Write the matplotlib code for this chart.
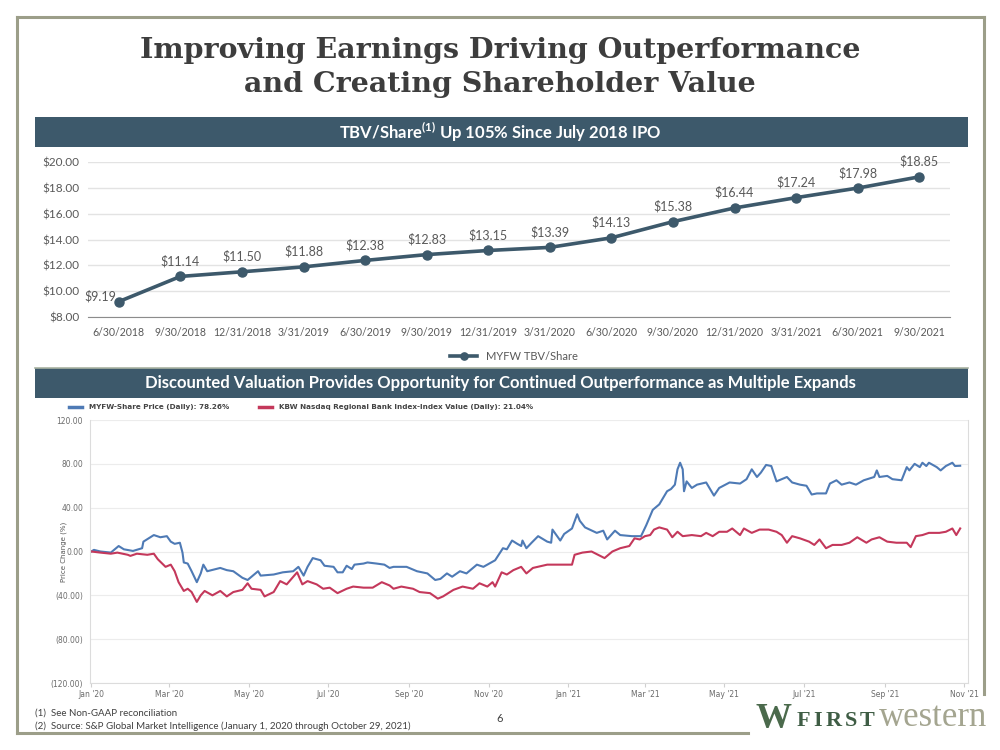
import numpy as np
import pandas as pd
import matplotlib
matplotlib.use('Agg')
import matplotlib.pyplot as plt
from matplotlib.patches import Rectangle
from matplotlib.lines import Line2D

plt.rcParams['mathtext.fontset'] = 'custom'
plt.rcParams['mathtext.rm'] = 'Lato:bold'
plt.rcParams['mathtext.it'] = 'Lato:bold'
plt.rcParams['mathtext.bf'] = 'Lato:bold'

# ---- top chart: TBV / share by quarter
quarters = ['6/30/2018', '9/30/2018', '12/31/2018', '3/31/2019', '6/30/2019', '9/30/2019',
            '12/31/2019', '3/31/2020', '6/30/2020', '9/30/2020', '12/31/2020', '3/31/2021',
            '6/30/2021', '9/30/2021']
tbv = [9.19, 11.14, 11.50, 11.88, 12.38, 12.83, 13.15, 13.39, 14.13, 15.38, 16.44, 17.24,
       17.98, 18.85]

myfw_days = [0, 2, 7, 15, 17, 21, 25, 32, 39, 40, 48, 53, 58, 61, 64, 68, 70, 71, 74, 77,
             81, 84, 86, 89, 99, 104, 109, 116, 120, 124, 128, 130, 140, 147, 155, 159, 163,
             166, 170, 176, 179, 186, 189, 193, 196, 200, 202, 209, 212, 219, 225, 229, 232,
             242, 250, 258, 264, 268, 273, 277, 283, 288, 296, 301, 310, 316, 319, 323, 327,
             330, 331, 334, 338, 343, 350, 353, 354, 360, 363, 369, 373, 375, 379, 388, 393,
             396, 402, 406, 415, 422, 426, 431, 436, 442, 445, 448, 450, 452, 454, 455, 457,
             461, 465, 472, 478, 482, 490, 498, 503, 507, 511, 514, 518, 522, 526, 534, 538,
             544, 549, 553, 557, 564, 567, 572, 576, 582, 587, 593, 601, 603, 605, 611, 615,
             622, 626, 628, 632, 636, 638, 641, 643, 649, 652, 656, 661, 663, 667]
myfw_pct = [0, 1.5, 0, -1, 1, 5, 2, 0.5, 3, 9, 15, 13, 14, 9, 7, 8, -1, -10, -11, -18,
            -28, -20, -12, -18, -15, -17, -18, -24, -26, -22, -18, -22, -21, -19, -18, -14, -22,
            -14, -6, -8, -13, -14, -19, -19, -13, -16, -12, -11, -10, -11, -12, -15, -14,
            -14, -18, -20, -26, -25, -20, -23, -18, -20, -12, -14, -8, 3, 2, 10, 7,
            5, 10, 3, 8, 14, 9, 8, 20, 10, 16, 21, 34, 28, 22, 17, 19,
            11, 19, 15, 14, 14, 24, 38, 43, 55, 57, 61, 75, 81, 75, 55, 64,
            58, 61, 63, 51, 58, 63, 62, 66, 75, 68, 72, 79, 78, 64, 68, 63,
            61, 60, 52, 53, 53, 62, 65, 61, 63, 61, 65, 68, 74, 68, 69, 66,
            65, 77, 74, 80, 77, 81, 78, 81, 77, 74, 78, 81, 78, 78.26]

kbw_days = [0, 7, 15, 20, 28, 30, 35, 43, 48, 51, 57, 61, 64, 67, 71, 74, 77, 81, 84, 87,
            93, 99, 104, 109, 116, 120, 123, 130, 133, 140, 145, 150, 158, 162, 166, 173,
            178, 183, 189, 196, 201, 209, 216, 223, 229, 232, 238, 247, 252, 260, 266, 270,
            278, 285, 293, 298, 304, 308, 310, 315, 319, 324, 330, 334, 339, 350, 360, 369,
            371, 377, 384, 389, 394, 400, 406, 413, 417, 421, 425, 429, 432, 436, 442, 446,
            450, 454, 461, 468, 472, 477, 482, 488, 492, 498, 501, 507, 513, 520, 526, 530,
            534, 538, 544, 551, 555, 559, 564, 569, 576, 582, 588, 595, 599, 605, 611, 618,
            626, 629, 633, 638, 643, 651, 656, 661, 664, 667]
kbw_pct = [0, -1, -2, -1, -3, -4, -2, -3, -2, -7, -14, -12, -18, -28, -36, -34, -37, -46, -40, -36,
           -40, -36, -41, -37, -35, -29, -34, -35, -41, -37, -27, -30, -19, -30, -27, -30,
           -34, -33, -38, -34, -32, -33, -33, -28, -31, -34, -32, -34, -37, -38, -43, -41,
           -35, -32, -34, -29, -32, -28, -32, -19, -21, -17, -14, -20, -15, -12, -12, -12,
           -3, -1, 0, -3, -6, 0, 3, 5, 12, 11, 14, 15, 20, 22, 20, 13,
           18, 14, 15, 14, 17, 14, 18, 18, 21, 15, 21, 17, 20, 20, 18, 15,
           8, 14, 12, 9, 6, 11, 3, 6, 6, 8, 13, 8, 11, 13, 9, 8,
           8, 4, 14, 15, 17, 17, 18, 21, 15, 21.04]

month_ticks = pd.date_range('2020-01-01', '2021-11-01', freq='2MS')

slate = '#3d596b'
olive = '#9c9e89'
W, H = 1000, 750


def fx(px):
    return px / W


def fy(py):
    return 1 - py / H


fig = plt.figure(figsize=(10, 7.5), dpi=100)

# slide frame
for xs, ys in [((17, 984), (17, 17)), ((17, 17), (17, 733)), ((17, 748), (733, 733)),
               ((984, 984), (17, 694))]:
    fig.add_artist(Line2D([fx(x) for x in xs], [fy(y) for y in ys], color=olive, lw=2.2))

# title
for yy, line in [(50, 'Improving Earnings Driving Outperformance'),
                 (85, 'and Creating Shareholder Value')]:
    fig.text(0.5, fy(yy), line, ha='center', va='center', family='DejaVu Serif',
             weight='bold', fontsize=20.5, color='#3d3d3d')

# header bars
for top, txt in [(117, 'TBV/Share$^{(1)}$ Up 105% Since July 2018 IPO'),
                 (368, 'Discounted Valuation Provides Opportunity for Continued Outperformance as Multiple Expands')]:
    fig.patches.append(Rectangle((fx(35), fy(top + 30)), fx(933), 30 / H,
                                 transform=fig.transFigure, facecolor=slate, edgecolor='none'))
    fig.text(0.5, fy(top + 15), txt, ha='center', va='center', color='white',
             family='Lato', weight='bold', fontsize=12)
fig.add_artist(Line2D([fx(35), fx(968)], [fy(368), fy(368)], color='#a9b3a2', lw=1.2))

# ---- top chart
ax1 = fig.add_axes([fx(88), fy(317), fx(862), 155 / H])
x = np.arange(len(quarters))
ax1.plot(x, tbv, color=slate, lw=2.6, marker='o', ms=6.5, label='MYFW TBV/Share')
ax1.set_xlim(-0.5, len(quarters) - 0.5)
ax1.set_ylim(8, 20)
ax1.set_yticks(np.arange(8, 21, 2))
ax1.set_yticklabels([f'${v:.2f}' for v in np.arange(8, 21, 2)])
ax1.set_xticks(x)
ax1.set_xticklabels(quarters)
ax1.tick_params(length=0, labelsize=8.5, labelcolor='#595959', pad=6)
ax1.tick_params(axis='x', labelsize=7.6, pad=7)
for lab in ax1.get_xticklabels() + ax1.get_yticklabels():
    lab.set_family('Lato')
ax1.grid(axis='y', color='#e3e3e3', lw=1)
ax1.set_axisbelow(True)
for s in ['top', 'right', 'left']:
    ax1.spines[s].set_visible(False)
ax1.spines['bottom'].set_color('#8c8c8c')
for i, v in enumerate(tbv):
    if i == 0:
        ax1.annotate(f'${v:.2f}', (i, v), xytext=(-3, 5), textcoords='offset pixels',
                     ha='right', va='center', fontsize=9, color='#595959', family='Lato')
    else:
        ax1.annotate(f'${v:.2f}', (i, v), xytext=(0, 9), textcoords='offset pixels',
                     ha='center', va='bottom', fontsize=9, color='#595959', family='Lato')
fig.legend(loc='center', bbox_to_anchor=(fx(514), fy(356)), frameon=False,
           prop={'family': 'Lato', 'size': 8}, labelcolor='#595959', handlelength=2.4,
           markerscale=0.8)

# ---- bottom chart
ax2 = fig.add_axes([fx(90), fy(683), fx(878), 263 / H])
start = pd.Timestamp('2020-01-01')
myfw_dates = start + pd.to_timedelta(myfw_days, unit='D')
kbw_dates = start + pd.to_timedelta(kbw_days, unit='D')
ax2.plot(myfw_dates, myfw_pct, color='#4e7ab5', lw=1.5,
         label='MYFW-Share Price (Daily): 78.26%')
ax2.plot(kbw_dates, kbw_pct, color='#c4385b', lw=1.5,
         label='KBW Nasdaq Regional Bank Index-Index Value (Daily): 21.04%')
ax2.set_xlim(pd.Timestamp('2019-12-31'), pd.Timestamp('2021-11-04'))
ax2.set_ylim(-120, 120)
yt = np.arange(-120, 121, 40)
ax2.set_yticks(yt)
ax2.set_yticklabels([f'{v:.2f}' if v >= 0 else f'({-v:.2f})' for v in yt])
ax2.set_xticks(month_ticks)
ax2.set_xticklabels([d.strftime("%b '%y") for d in month_ticks])
ax2.tick_params(axis='both', length=0, labelsize=5.5, labelcolor='#6b6b6b', pad=5)
ax2.tick_params(axis='x', length=3, color='#d0d0d0', pad=2)
ax2.grid(axis='y', color='#ececec', lw=0.8)
ax2.set_axisbelow(True)
ax2.spines['top'].set_visible(False)
for s in ['left', 'bottom', 'right']:
    ax2.spines[s].set_color('#dcdcdc')
ax2.set_ylabel('Price Change (%)', fontsize=5, color='#555555')
ax2.yaxis.set_label_coords(-0.026, 0.5)
leg = ax2.legend(loc='center left', bbox_to_anchor=(-0.027, 1.049), ncol=2, frameon=False,
                 borderaxespad=0, handlelength=1.8, handletextpad=0.9, columnspacing=4.2,
                 prop={'size': 5.2, 'weight': 'bold'}, labelcolor='#444444')
for h in leg.legend_handles:
    h.set_linewidth(2.5)

# ---- footer
fig.text(fx(35), fy(713), '(1)  See Non-GAAP reconciliation', ha='left', va='center',
         family='Lato', fontsize=7, color='#404040')
fig.text(fx(35), fy(726), '(2)  Source: S&P Global Market Intelligence (January 1, 2020 through October 29, 2021)',
         ha='left', va='center', family='Lato', fontsize=7, color='#404040')
fig.text(0.5, fy(718), '6', ha='center', va='center', family='Lato', fontsize=8, color='#404040')

# logo
fig.text(fx(755), fy(720), 'W', ha='left', va='center', family='Liberation Serif',
         weight='bold', fontsize=26, color='#4b6a4c')
renderer = fig.canvas.get_renderer()
lx = 797
for ch in 'FIRST':
    t = fig.text(fx(lx), fy(721), ch, ha='left', va='center', family='Liberation Serif',
                 weight='bold', fontsize=16, color='#3f5d45')
    lx += t.get_window_extent(renderer).width + 3
fig.text(fx(lx + 1), fy(717), 'western', ha='left', va='center', family='Liberation Serif',
         fontsize=25, color='#a4a590')

fig.savefig('out.png', dpi=100, facecolor='white')
